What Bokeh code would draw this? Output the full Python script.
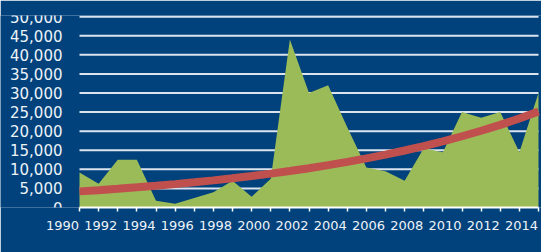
import numpy as np
from bokeh.plotting import figure
from bokeh.models import Range1d, FixedTicker, NumeralTickFormatter, LinearAxis
from bokeh.embed import file_html
from bokeh.resources import INLINE

# ---- data ----
years = [1990, 1991, 1992, 1993, 1994, 1995, 1996, 1997, 1998, 1999, 2000, 2001,
         2002, 2003, 2004, 2005, 2006, 2007, 2008, 2009, 2010, 2011, 2012, 2013, 2014]
values = [9200, 6200, 12500, 12500, 1800, 1000, 2500, 4000, 7000, 2800, 7500, 44000,
          30000, 32000, 21000, 10500, 9500, 7000, 15500, 14500, 25000, 23500, 25000, 14500, 30000]
x_label_years = [1990, 1992, 1994, 1996, 1998, 2000, 2002, 2004, 2006, 2008, 2010, 2012, 2014]
y_ticks = [0, 5000, 10000, 15000, 20000, 25000, 30000, 35000, 40000, 45000, 50000]

# exponential trendline (least squares on log values, like a spreadsheet trendline)
t = np.array(years, dtype=float) - years[0]
b, a = np.polyfit(t, np.log(values), 1)
trend = list(np.exp(a + b * t))

BG = "#01427c"
GREEN = "#9bbb59"
RED = "#c0504d"
FG = "#eef3f8"
GRID = "#dbe4ee"

# layout in pixels: plot area from x=79 to 538, value 0 at y=207, 50,000 at y=16
W, H = 541, 252
PLOT_L, PLOT_R = 79, 538
TOP, ZERO_Y = 15, 207
Y_END = 50300
PX_PER_YEAR = (PLOT_R - PLOT_L) / (years[-1] - years[0])
X_START = years[0] - PLOT_L / PX_PER_YEAR
X_END = years[-1] + (W - PLOT_R) / PX_PER_YEAR
LABEL_SHIFT = 17 / PX_PER_YEAR   # year labels end at their tick

p = figure(width=W, height=H, output_backend="svg", toolbar_location=None,
           x_range=Range1d(X_START, X_END), y_range=Range1d(0, Y_END))
p.background_fill_color = BG
p.border_fill_color = BG
p.outline_line_color = None
p.min_border_left = 0
p.min_border_right = 0
p.min_border_top = TOP
p.min_border_bottom = H - ZERO_Y
p.grid.visible = False

# horizontal gridlines over the plot area only
n = len(y_ticks) - 1
p.segment(x0=[years[0]] * n, x1=[years[-1]] * n, y0=y_ticks[1:], y1=y_ticks[1:],
          line_color=GRID, line_width=2)

p.varea(x=years, y1=0, y2=values, fill_color=GREEN, fill_alpha=1.0)
p.line(years, trend, line_color=RED, line_width=8)

# y axis placed at the first year
ya = p.yaxis[0]
ya.fixed_location = years[0]
ya.bounds = (y_ticks[0], y_ticks[-1])
ya.ticker = FixedTicker(ticks=y_ticks)
ya.formatter = NumeralTickFormatter(format="0,0")
ya.axis_line_color = None
ya.major_tick_line_color = None
ya.minor_tick_line_color = None
ya.major_tick_out = 0
ya.major_tick_in = 0
ya.major_label_standoff = 17
ya.major_label_text_color = FG
ya.major_label_text_font = "DejaVu Sans"
ya.major_label_text_font_size = "15px"

# x axis: line + a tick at every year
xa = p.xaxis[0]
xa.bounds = (years[0], years[-1])
xa.ticker = FixedTicker(ticks=[], minor_ticks=years)
xa.axis_line_color = "white"
xa.axis_line_width = 2
xa.major_tick_out = 4
xa.major_tick_in = 0
xa.major_label_standoff = 0
xa.minor_tick_line_color = "white"
xa.minor_tick_line_width = 1.5
xa.minor_tick_in = 0
xa.minor_tick_out = 4

# year labels, every second year, ending at their tick
p.extra_x_ranges = {"lab": Range1d(X_START + LABEL_SHIFT, X_END + LABEL_SHIFT)}
la = LinearAxis(x_range_name="lab", ticker=FixedTicker(ticks=x_label_years))
la.axis_line_color = None
la.major_tick_line_color = None
la.minor_tick_line_color = None
la.major_tick_in = 0
la.major_tick_out = 0
la.minor_tick_in = 0
la.minor_tick_out = 0
la.major_label_standoff = 9
la.major_label_text_color = FG
la.major_label_text_font = "DejaVu Sans"
la.major_label_text_font_size = "13px"
p.add_layout(la, "below")

open("out.html", "w").write(file_html(p, INLINE))
